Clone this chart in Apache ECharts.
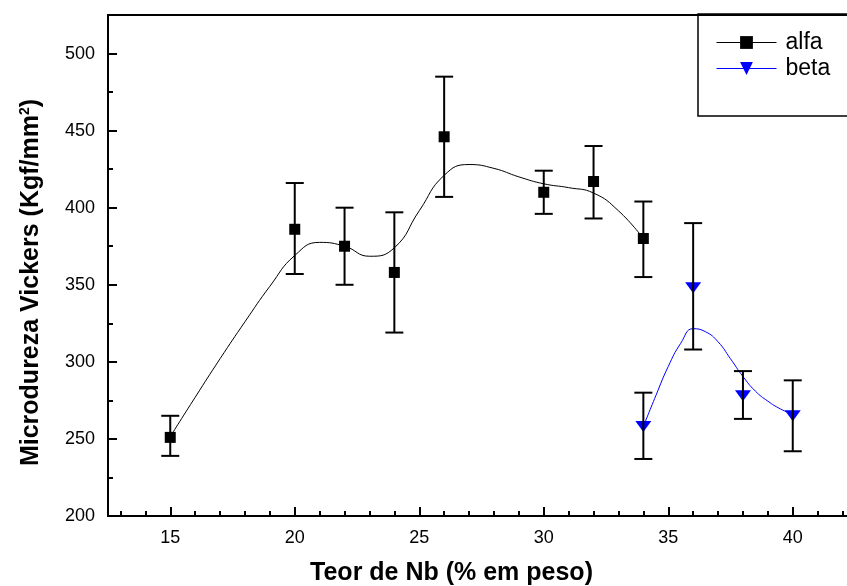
<!DOCTYPE html>
<html>
<head>
<meta charset="utf-8">
<script src="https://cdn.jsdelivr.net/npm/echarts@6/dist/echarts.min.js"></script>
<style>
  html, body { margin: 0; padding: 0; background: #fff; overflow: hidden; }
  #chart { width: 847px; height: 586px; }
</style>
</head>
<body>
<div id="chart"></div>
<script>
// alfa phase: Nb content, hardness and error bar ends
const nbAlfa = [15, 20, 22, 24, 26, 30, 32, 34];
const hvAlfa = [251, 386, 375, 358, 446, 410, 417, 380];
const alfaLow = [239, 357, 350, 319, 407, 396, 393, 355];
const alfaHigh = [265, 416, 400, 397, 485, 424, 440, 404];

// beta phase
const nbBeta = [34, 36, 38, 40];
const hvBeta = [258, 348, 278, 265];
const betaLow = [237, 308, 263, 242];
const betaHigh = [280, 390, 294, 288];

// smoothed curves
const curveAlfaX = [15, 16, 17, 18, 19, 20, 21, 22, 23, 24, 25, 26, 27, 28, 29, 30, 31, 32, 33, 34];
const curveAlfaY = [251.5, 277, 302, 326, 349, 369, 377.5, 375, 368.5, 374, 398, 421, 428, 425.5, 420, 415.5, 413, 409.5, 398, 380];
const curveBetaX = [34, 34.5, 35, 35.5, 36, 36.5, 37, 37.5, 38, 38.5, 39, 39.5, 40];
const curveBetaY = [258, 278, 297, 312, 321.5, 319.5, 313, 302, 290.5, 281, 274.5, 269.5, 266];

// ticks
const xMajor = [15, 20, 25, 30, 35, 40];
const xMinor = [13, 14, 16, 17, 18, 19, 21, 22, 23, 24, 26, 27, 28, 29, 31, 32, 33, 34, 36, 37, 38, 39, 41, 42];
const yMajor = [200, 250, 300, 350, 400, 450, 500];
const yMinor = [225, 275, 325, 375, 425, 475];

const zip = (a, b) => a.map((v, i) => [v, b[i]]);
const zip3 = (a, b, c) => a.map((v, i) => [v, b[i], c[i]]);

const font = 'Liberation Sans, Arial, sans-serif';

const chart = echarts.init(document.getElementById('chart'));

const errorBars = (name, data) => ({
    type: 'custom',
    name: name,
    z: 5,
    data: data,
    encode: { x: 0, y: [1, 2] },
    renderItem: (params, api) => {
        const x = api.value(0);
        const lo = api.coord([x, api.value(1)]);
        const hi = api.coord([x, api.value(2)]);
        const w = 9;
        const style = { stroke: '#000', lineWidth: 2 };
        return {
            type: 'group',
            children: [
                { type: 'line', shape: { x1: lo[0], y1: lo[1], x2: hi[0], y2: hi[1] }, style },
                { type: 'line', shape: { x1: lo[0] - w, y1: lo[1], x2: lo[0] + w, y2: lo[1] }, style },
                { type: 'line', shape: { x1: hi[0] - w, y1: hi[1], x2: hi[0] + w, y2: hi[1] }, style }
            ]
        };
    }
});

const minorAxisCommon = {
    axisLine: { show: false },
    axisLabel: { show: false },
    splitLine: { show: false }
};

const option = {
    backgroundColor: '#fff',
    animation: false,
    grid: {
        left: 108, top: 15, width: 747, bottom: 70,
        outerBoundsMode: 'none',
        show: true, borderColor: '#000', borderWidth: 2
    },
    legend: {
        orient: 'vertical',
        left: 698,
        top: 14,
        itemWidth: 60,
        itemHeight: 16,
        itemGap: 3,
        padding: [17, 40, 36, 18],
        borderColor: '#000',
        borderWidth: 1.5,
        textStyle: { fontSize: 23, fontFamily: font, color: '#000', padding: [0, 0, 0, 4] },
        data: [
            { name: 'alfa', lineStyle: { color: '#000', width: 1, opacity: 1 } },
            { name: 'beta', lineStyle: { color: '#0000ff', width: 1, opacity: 1 } }
        ]
    },
    xAxis: [{
        type: 'value',
        min: 12.5,
        max: 42.5,
        name: 'Teor de Nb (% em peso)',
        nameLocation: 'middle',
        nameGap: 45,
        nameTextStyle: { fontSize: 25, fontWeight: 'bold', fontFamily: font, color: '#000', padding: [0, 60, 0, 0] },
        axisLine: { show: true, onZero: false, lineStyle: { color: '#000', width: 2 } },
        axisTick: { show: true, inside: true, length: 9, customValues: xMajor, lineStyle: { color: '#000', width: 2 } },
        axisLabel: { customValues: xMajor, margin: 13, fontSize: 18, fontFamily: font, color: '#000' },
        splitLine: { show: false }
    }, {
        type: 'value',
        min: 12.5,
        max: 42.5,
        position: 'bottom',
        ...minorAxisCommon,
        axisTick: { show: true, inside: true, length: 5, customValues: xMinor, lineStyle: { color: '#000', width: 2 } }
    }],
    yAxis: [{
        type: 'value',
        min: 200,
        max: 525,
        name: 'Microdureza Vickers (Kgf/mm{sup|2})',
        nameLocation: 'middle',
        nameGap: 64,
        nameTextStyle: {
            fontSize: 25, fontWeight: 'bold', fontFamily: font, color: '#000', padding: [0, 34, 0, 0],
            rich: { sup: { fontSize: 14, fontWeight: 'bold', fontFamily: font, color: '#000', verticalAlign: 'top', padding: [0, 0, 12, 0] } }
        },
        axisLine: { show: true, onZero: false, lineStyle: { color: '#000', width: 2 } },
        axisTick: { show: true, inside: true, length: 9, customValues: yMajor, lineStyle: { color: '#000', width: 2 } },
        axisLabel: { customValues: yMajor, margin: 13, fontSize: 18, fontFamily: font, color: '#000' },
        splitLine: { show: false }
    }, {
        type: 'value',
        min: 200,
        max: 525,
        position: 'left',
        ...minorAxisCommon,
        axisTick: { show: true, inside: true, length: 5, customValues: yMinor, lineStyle: { color: '#000', width: 2 } }
    }],
    series: [
        {
            name: 'alfa-curve', type: 'line', smooth: true, symbol: 'none', z: 2,
            data: zip(curveAlfaX, curveAlfaY),
            lineStyle: { color: '#000', width: 1 }
        },
        {
            name: 'beta-curve', type: 'line', smooth: true, symbol: 'none', z: 2,
            data: zip(curveBetaX, curveBetaY),
            lineStyle: { color: '#0000ff', width: 1 }
        },
        {
            name: 'alfa', type: 'line', z: 3,
            data: zip(nbAlfa, hvAlfa),
            symbol: 'rect', symbolSize: 11,
            itemStyle: { color: '#000' },
            lineStyle: { color: '#000', opacity: 0 }
        },
        {
            name: 'beta', type: 'line', z: 3,
            data: zip(nbBeta, hvBeta),
            symbol: 'triangle', symbolRotate: 180, symbolSize: [16, 11],
            itemStyle: { color: '#0000ff' },
            lineStyle: { color: '#0000ff', opacity: 0 }
        },
        errorBars('alfa-err', zip3(nbAlfa, alfaLow, alfaHigh)),
        errorBars('beta-err', zip3(nbBeta, betaLow, betaHigh))
    ]
};

chart.setOption(option);
</script>
</body>
</html>
